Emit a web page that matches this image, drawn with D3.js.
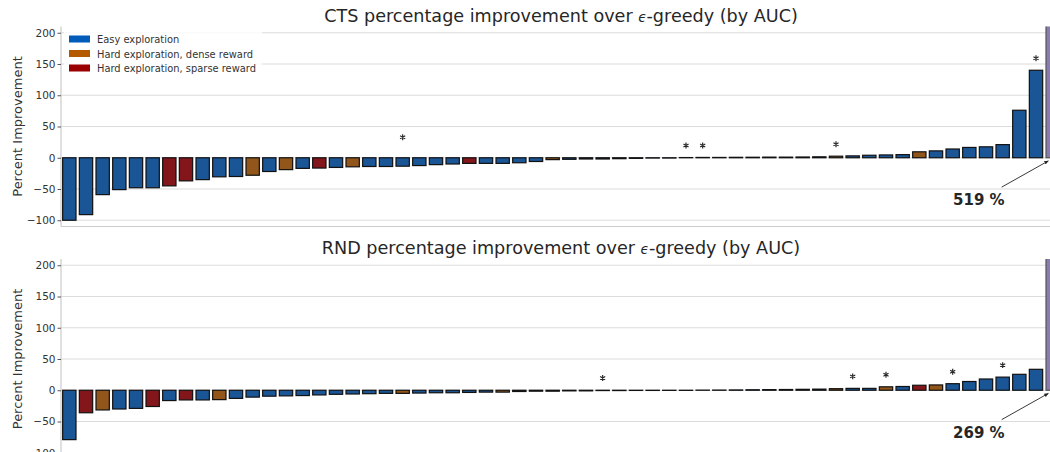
<!DOCTYPE html>
<html>
<head>
<meta charset="utf-8">
<script src="https://cdn.jsdelivr.net/npm/d3@7"></script>
<style>
  body { margin: 0; background: #fff; }
  svg { display: block; font-family: "DejaVu Sans", sans-serif; }
</style>
</head>
<body>
<svg id="chart" width="1050" height="452"></svg>
<script>
// values, sorted per panel (E easy, D dense, S sparse, O off-scale)
var ctsValues = [-100, -91, -59, -51, -48, -48, -45, -37, -35, -30.5, -30, -28, -22, -19, -17, -16.5, -15.5, -14.5,
  -14, -14, -13.5, -12.5, -11, -10, -9, -9, -9, -8, -6, -3, -2.5, -2, -2, -1.5, -1, -0.5, -0.5,
  0.3, 0.5, 0.5, 0.7, 0.8, 1, 1, 1.2, 1.5, 2.5, 3, 4, 4.5, 5, 9.5, 11, 14, 16.5, 17.5, 21, 76, 140, 519];
var ctsCats = "EEEEEESSEEEDEDESEDEEEEEESEEEEDEEEEEEEEEEEEEEEEDEEEEDEEEEEEEO".split('');
var ctsStars = [20, 37, 38, 46, 58];

var rndValues = [-79, -36, -31.5, -30, -29, -26, -16.5, -15.5, -15.5, -15, -13, -11, -9.5, -9, -8.5, -7.5, -6.5, -6,
  -5.5, -5, -5, -4.5, -4, -4, -3.5, -3, -3, -2, -1.5, -1.5, -1, -1, -0.5, -0.5, -0.3, -0.3, -0.2, -0.2,
  0.2, 0.3, 0.5, 0.8, 1, 1.2, 1.5, 1.8, 2.5, 3, 3, 5.5, 6, 8, 8.5, 10.5, 14, 18, 21, 25.5, 33.5, 269];
var rndCats = "ESDEESESEDEEEEEEEEEEDEEEEEDEEEEEEEEEEEEEEEEEDEDEEDESDEEEEEEO".split('');
var rndStars = [32, 47, 49, 53, 56];

var yTicks = [-100, -50, 0, 50, 100, 150, 200];
var legendLabels = ["Easy exploration", "Hard exploration, dense reward", "Hard exploration, sparse reward"];

var barFill = { E: "#1a5596", D: "#93561a", S: "#82161a", O: "#8a7bb0" };
var legendFill = ["#005bbb", "#b35a00", "#9a0000"];

var svg = d3.select('#chart');
var left = 61, plotW = 1000, plotH = 200;
var minus = function(v) { return v < 0 ? '\u2212' + Math.abs(v) : '' + v; };
var star = d3.symbol().type(d3.symbolAsterisk).size(24);

function panel(top, values, cats, stars, name, showLegend, id) {
  var g = svg.append('g');
  var x = d3.scaleBand().domain(d3.range(values.length)).range([left, left + plotW])
    .paddingInner(0.2).paddingOuter(0.1);
  var y = d3.scaleLinear().domain([-110, 210]).range([top + plotH, top]);
  var xAt = function(p) { return left + x.step() * (p + 0.5); };

  svg.append('clipPath').attr('id', id).append('rect')
    .attr('x', left).attr('y', top).attr('width', plotW).attr('height', plotH);

  // grid
  g.selectAll('.grid').data(yTicks).enter().append('line')
    .attr('x1', left).attr('x2', left + plotW)
    .attr('y1', d => y(d)).attr('y2', d => y(d))
    .attr('stroke', '#dcdcdc').attr('stroke-width', 1.2);

  // spines
  g.append('line').attr('x1', left).attr('x2', left).attr('y1', top).attr('y2', top + plotH)
    .attr('stroke', '#cccccc').attr('stroke-width', 1.2);
  g.append('line').attr('x1', left).attr('x2', left + plotW).attr('y1', top + plotH).attr('y2', top + plotH)
    .attr('stroke', '#cccccc').attr('stroke-width', 1.2);

  // y axis ticks
  var ax = g.append('g').attr('transform', 'translate(' + left + ',0)')
    .call(d3.axisLeft(y).tickValues(yTicks).tickSize(3.5).tickPadding(2).tickFormat(minus));
  ax.select('.domain').remove();
  ax.selectAll('line').attr('stroke', '#555');
  ax.selectAll('text').attr('fill', '#333').style('font-size', '10.5px')
    .style('font-family', '"DejaVu Sans", sans-serif');

  g.append('text').attr('transform', 'translate(22,' + (top + 100) + ') rotate(-90)')
    .attr('text-anchor', 'middle').attr('fill', '#333').style('font-size', '13px')
    .text('Percent Improvement');

  var t = g.append('text').attr('x', left + plotW / 2).attr('y', top - 5)
    .attr('text-anchor', 'middle').attr('fill', '#262626').style('font-size', '17.6px');
  t.append('tspan').text(name + ' percentage improvement over ');
  t.append('tspan').style('font-style', 'italic').style('font-size', '13.5px').text('\u03F5');
  t.append('tspan').text('-greedy (by AUC)');

  // bars
  g.append('g').attr('clip-path', 'url(#' + id + ')')
    .selectAll('rect').data(values).enter().append('rect')
    .attr('x', (d, i) => x(i))
    .attr('width', x.bandwidth())
    .attr('y', d => y(Math.max(0, Math.min(d, 215))))
    .attr('height', d => Math.abs(y(Math.min(d, 215)) - y(0)))
    .attr('fill', (d, i) => barFill[cats[i]])
    .attr('stroke', (d, i) => cats[i] === 'O' ? '#555' : '#111')
    .attr('stroke-width', 1.2);

  // significance stars
  g.selectAll('.star').data(stars).enter().append('path')
    .attr('d', star)
    .attr('transform', i => 'translate(' + xAt(i) + ',' + (y(Math.abs(values[i])) - 12) + ')')
    .attr('fill', 'none').attr('stroke', '#2a2a2a').attr('stroke-width', 1.2);

  // off-scale annotation
  var last = values.length - 1;
  g.append('line')
    .attr('x1', xAt(55.94)).attr('y1', y(-47))
    .attr('x2', xAt(58.74)).attr('y2', y(-5))
    .attr('stroke', '#222').attr('stroke-width', 0.9).attr('marker-end', 'url(#arrow)');
  g.append('text').attr('x', xAt(54.57)).attr('y', y(-76))
    .attr('text-anchor', 'middle').attr('fill', '#262626')
    .style('font-size', '15px').style('font-weight', 'bold')
    .text(values[last] + ' %');

  if (showLegend) {
    var lg = g.append('g');
    lg.append('rect').attr('x', 64).attr('y', 30).attr('width', 198).attr('height', 45)
      .attr('fill', '#fff').attr('opacity', 0.8);
    legendLabels.forEach(function(lab, k) {
      lg.append('rect').attr('x', 69).attr('y', 35.5 + k * 14.5).attr('width', 21).attr('height', 7)
        .attr('fill', legendFill[k]);
      lg.append('text').attr('x', 97).attr('y', 43 + k * 14.5).attr('fill', '#333')
        .style('font-size', '9.9px').text(lab);
    });
  }
}

svg.append('defs').append('marker').attr('id', 'arrow')
  .attr('viewBox', '0 0 10 10').attr('refX', 9).attr('refY', 5)
  .attr('markerWidth', 5).attr('markerHeight', 5).attr('orient', 'auto')
  .append('path').attr('d', 'M0,1 L10,5 L0,9 z').attr('fill', '#222');

panel(26.5, ctsValues, ctsCats, ctsStars, 'CTS', true, 'clipTop');
panel(259, rndValues, rndCats, rndStars, 'RND', false, 'clipBottom');
</script>
</body>
</html>
